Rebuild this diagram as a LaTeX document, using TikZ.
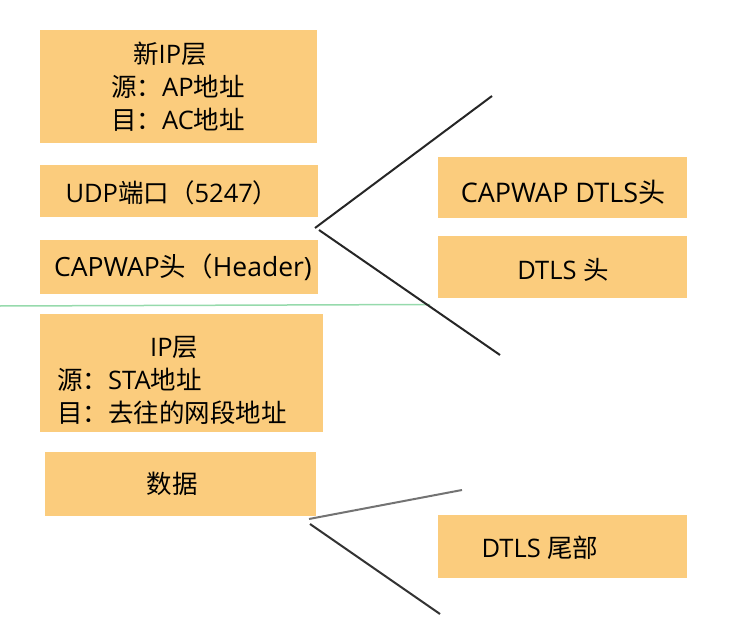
\documentclass[tikz,border=0pt]{standalone}
\usepackage{fontspec}
\setmainfont{Open Sans}
\newfontfamily\cj{Noto Sans CJK SC}
\begin{document}
\begin{tikzpicture}[x=1pt,y=-1pt,
  blk/.style={fill=boxfill,draw=none,inner sep=0pt},
  txt/.style={inner sep=0pt,font=\fontsize{25.5}{33}\selectfont},
  ln/.style={line width=2pt,draw=black!85}]
\definecolor{boxfill}{RGB}{251,204,125}
\definecolor{gline}{RGB}{150,218,172}
\useasboundingbox (0,0) rectangle (753,618);
% left boxes
\node[blk,minimum width=277pt,minimum height=113pt] (b1) at (178.5,86.5) {};
\node[blk,minimum width=278pt,minimum height=52pt] (b2) at (179,191) {};
\node[blk,minimum width=278pt,minimum height=54pt] (b3) at (179,267) {};
\node[blk,minimum width=283pt,minimum height=118pt] (b4) at (181.5,373) {};
\node[blk,minimum width=271pt,minimum height=64pt] (b5) at (180.5,484) {};
% right boxes
\node[blk,minimum width=249pt,minimum height=61pt] (b6) at (562.5,187.5) {};
\node[blk,minimum width=249pt,minimum height=62pt] (b7) at (562.5,267) {};
\node[blk,minimum width=249pt,minimum height=63pt] (b8) at (562.5,546.5) {};
% texts
\node[txt,align=left,anchor=west] (t1) at (111,87) {\hspace*{22pt}{\cj 新}IP{\cj 层}\\{\cj 源：}AP{\cj 地址}\\{\cj 目：}AC{\cj 地址}};
\node[txt] (t2) at (172,193) {UDP{\cj 端口（}5247{\cj ）}};
\node[txt,font=\fontsize{26.5}{33}\selectfont] (t3) at (183,267) {CAPWAP{\cj 头（}Header)};
\node[txt,align=left,anchor=west] (t4) at (57,380) {\hspace*{93pt}IP{\cj 层}\\{\cj 源：}STA{\cj 地址}\\{\cj 目：去往的网段地址}};
\node[txt] (t5) at (172,484) {\cj 数据};
\node[txt,font=\fontsize{27}{33}\selectfont] (t6) at (563,192) {CAPWAP DTLS{\cj 头}};
\node[txt] (t7) at (563,270) {DTLS {\cj 头}};
\node[txt] (t8) at (540,548) {DTLS {\cj 尾部}};
% green line
\coordinate (g1) at (0,306);
\coordinate (g2) at (430,304.5);
\draw[gline,line width=1.5pt] (g1) -- (g2);
% brace lines
\coordinate (v1) at (315,228);
\coordinate (v1b) at (319,230);
\coordinate (e1) at (492,96);
\coordinate (e2) at (500,355);
\draw[ln] (v1) -- (e1);
\draw[ln] (v1b) -- (e2);
\coordinate (v2) at (309,519);
\coordinate (v2b) at (310,524);
\coordinate (e3) at (462,490);
\coordinate (e4) at (440,614);
\draw[line width=2pt,draw=black!55] (v2) -- (e3);
\draw[ln,draw=black!80] (v2b) -- (e4);
\end{tikzpicture}
\end{document}
